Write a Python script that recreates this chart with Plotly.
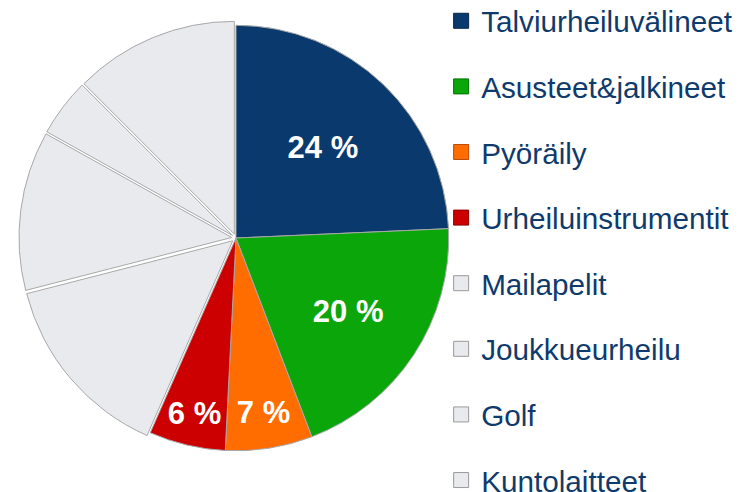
import plotly.graph_objects as go

categories = ["Talviurheiluvälineet", "Asusteet&jalkineet", "Pyöräily", "Urheiluinstrumentit",
              "Mailapelit", "Joukkueurheilu", "Golf", "Kuntolaitteet"]
values = [24.3, 19.9, 6.6, 5.8, 14.4, 12.1, 4.4, 12.5]
slice_text = ["24 %", "20 %", "7 %", "6 %", "", "", "", ""]
colors = ["#0a3a6d", "#0aa60a", "#ff6c00", "#cc0000", "#e9eaee", "#e9eaee", "#e9eaee", "#e9eaee"]
legend_line = ["#06254a", "#057005", "#b84c00", "#8a0000", "#9a9a9a", "#9a9a9a", "#9a9a9a", "#9a9a9a"]
pulls = [0, 0, 0, 0, 0.02, 0.02, 0.02, 0.02]

fig = go.Figure()
fig.add_trace(go.Pie(
    labels=categories, values=values, text=slice_text, textinfo="text",
    textposition="inside",
    sort=False, direction="clockwise", rotation=0, pull=pulls,
    marker=dict(colors=colors, line=dict(color="#a8a8a8", width=1)),
    textfont=dict(family="Liberation Sans, Arial", size=31, color="white"),
    texttemplate="<b>%{text}</b>", insidetextorientation="horizontal",
    showlegend=False, hoverinfo="label+percent",
    domain=dict(x=[0.0147, 0.5965], y=[0.0914, 0.9735]),
))

for cat, col, lc in zip(categories, colors, legend_line):
    fig.add_trace(go.Scatter(
        x=[None], y=[None], mode="markers", name=cat, legendgroup=cat,
        marker=dict(symbol="square", size=15, color=col, line=dict(color=lc, width=1)),
    ))

fig.update_layout(
    width=746, height=492, margin=dict(l=0, r=0, t=0, b=0, autoexpand=False),
    paper_bgcolor="white", plot_bgcolor="white",
    xaxis=dict(visible=False), yaxis=dict(visible=False),
    uniformtext=dict(mode="show", minsize=31),
    legend=dict(x=0.5806, y=1.0265, xanchor="left", yanchor="top",
                font=dict(family="Liberation Sans, Arial", size=29.7, color="#0f3b6c"),
                tracegroupgap=24, itemwidth=30, bgcolor="rgba(0,0,0,0)",
                maxheight=700),
)
fig.write_html("out.html")
